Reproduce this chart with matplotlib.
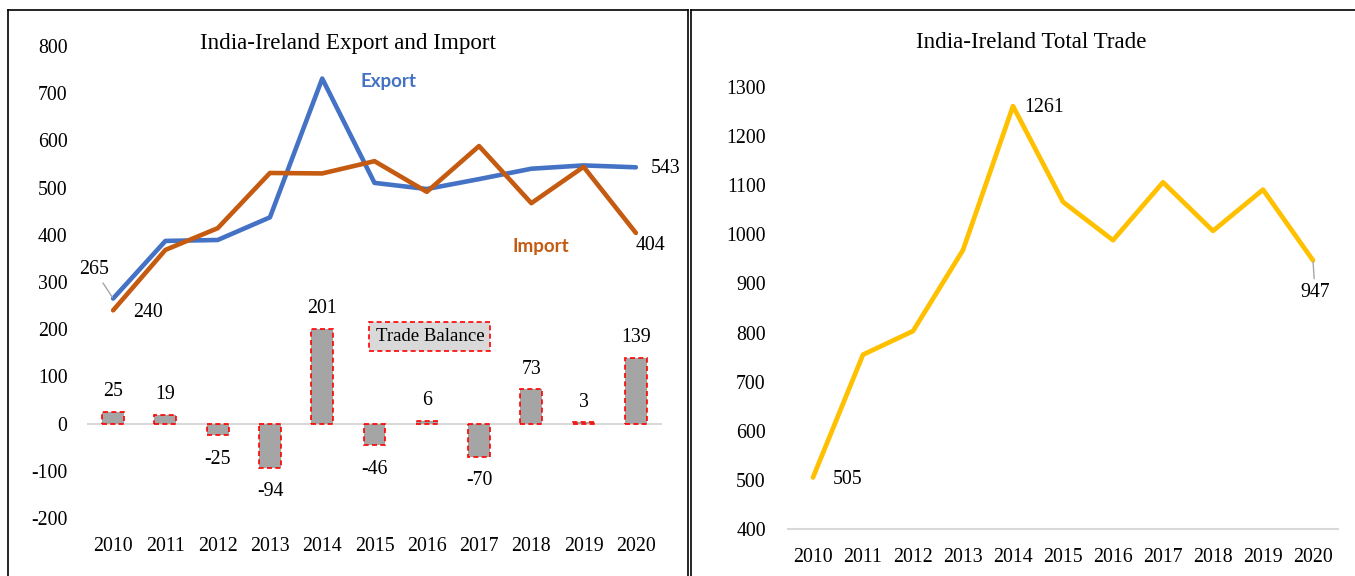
import matplotlib
matplotlib.use("Agg")
import matplotlib.pyplot as plt
from matplotlib.lines import Line2D

years = ["2010", "2011", "2012", "2013", "2014", "2015", "2016", "2017", "2018", "2019", "2020"]
export = [265, 387, 389, 437, 731, 510, 497, 518, 540, 547, 543]
imports = [240, 368, 414, 531, 530, 556, 491, 588, 467, 544, 404]
balance = [25, 19, -25, -94, 201, -46, 6, -70, 73, 3, 139]
total = [505, 755, 803, 968, 1261, 1066, 988, 1106, 1007, 1091, 947]

W, H = 1355, 576
plt.rcParams['font.family'] = ['Liberation Serif', 'DejaVu Serif']
plt.rcParams['axes.unicode_minus'] = False
fig = plt.figure(figsize=(W / 100, H / 100), dpi=100)

def fx(px):
    return px / W

def fy(py):
    return 1 - py / H

BLUE = '#4472C4'
ORANGE = '#C55A11'
GOLD = '#FFC000'
GRAY = '#A5A5A5'
LGRAY = '#D9D9D9'
TICK = 14.3
LBL = 14.3

# ---------- left panel ----------
axL = fig.add_axes([fx(87), fy(518), fx(575), 472 / H])
x = list(range(len(years)))
axL.set_xlim(-0.5, len(years) - 0.5)
axL.set_ylim(-200, 800)
axL.set_yticks(range(-200, 801, 100))
axL.set_xticks(x)
axL.set_xticklabels(years)
for s in axL.spines.values():
    s.set_visible(False)
axL.tick_params(length=0, labelsize=TICK)
axL.tick_params(axis='y', pad=14)
axL.tick_params(axis='x', pad=14)
axL.axhline(0, color=LGRAY, lw=1.5, zorder=1)

bars = axL.bar(x, balance, width=0.42, color=GRAY, edgecolor='#FF0000',
               linewidth=1.2, linestyle=(0, (3, 2)), zorder=2)
for xi, v in zip(x, balance):
    off = 20 if v >= 0 else -24
    axL.annotate(str(v), (xi, v), xytext=(0, off), textcoords='offset pixels',
                 ha='center', va='center', fontsize=LBL)

axL.plot(x, export, color=BLUE, lw=3.3, solid_capstyle='round', solid_joinstyle='round', zorder=3)
axL.plot(x, imports, color=ORANGE, lw=3.3, solid_capstyle='round', solid_joinstyle='round', zorder=4)

axL.annotate(str(export[0]), (x[0], export[0]), xytext=(-19, 29), textcoords='offset pixels',
             ha='center', va='center', fontsize=LBL,
             arrowprops=dict(arrowstyle='-', color='#A6A6A6', lw=1, shrinkA=1, shrinkB=1))
axL.annotate(str(imports[0]), (x[0], imports[0]), xytext=(35, -2), textcoords='offset pixels',
             ha='center', va='center', fontsize=LBL)
axL.annotate(str(export[-1]), (x[-1], export[-1]), xytext=(30, -1), textcoords='offset pixels',
             ha='center', va='center', fontsize=LBL)
axL.annotate(str(imports[-1]), (x[-1], imports[-1]), xytext=(15, -13), textcoords='offset pixels',
             ha='center', va='center', fontsize=LBL)

axL.text(5.26, 724, 'Export', color=BLUE, fontsize=13.5, fontweight='bold',
         family=['Lato', 'DejaVu Sans'], ha='center', va='center')
axL.text(8.19, 376, 'Import', color=ORANGE, fontsize=13.5, fontweight='bold',
         family=['Lato', 'DejaVu Sans'], ha='center', va='center')
axL.text(6.06, 185, 'Trade Balance', fontsize=13.5, ha='center', va='center',
         bbox=dict(boxstyle='square,pad=0.33', facecolor=LGRAY, edgecolor='#FF0000',
                   linestyle=(0, (3, 2)), linewidth=1.2))

fig.text(fx(348), fy(43), 'India-Ireland Export and Import', ha='center', va='center', fontsize=16.6)

# ---------- right panel ----------
axR = fig.add_axes([fx(788), fy(529), fx(550), 442 / H])
axR.set_xlim(-0.5, len(years) - 0.5)
axR.set_ylim(400, 1300)
axR.set_yticks(range(400, 1301, 100))
axR.set_xticks(x)
axR.set_xticklabels(years)
for k, s in axR.spines.items():
    s.set_visible(k == 'bottom')
axR.spines['bottom'].set_color(LGRAY)
axR.spines['bottom'].set_linewidth(1.5)
axR.tick_params(length=0, labelsize=TICK)
axR.tick_params(axis='y', pad=16)
axR.tick_params(axis='x', pad=14)
axR.plot(x, total, color=GOLD, lw=3.4, solid_capstyle='round', solid_joinstyle='round')

axR.annotate(str(total[0]), (x[0], total[0]), xytext=(35, -2), textcoords='offset pixels',
             ha='center', va='center', fontsize=LBL)
axR.annotate(str(total[4]), (x[4], total[4]), xytext=(31, -1), textcoords='offset pixels',
             ha='center', va='center', fontsize=LBL)
axR.annotate(str(total[-1]), (x[-1], total[-1]), xytext=(2, -32), textcoords='offset pixels',
             ha='center', va='center', fontsize=LBL,
             arrowprops=dict(arrowstyle='-', color='#A6A6A6', lw=1, shrinkA=1, shrinkB=1))

fig.text(fx(1031), fy(43), 'India-Ireland Total Trade', ha='center', va='center', fontsize=16.6)

# ---------- panel borders ----------
def seg(x0, y0, x1, y1):
    fig.add_artist(Line2D([fx(x0), fx(x1)], [fy(y0), fy(y1)], color='black', lw=1.2,
                          transform=fig.transFigure))

seg(8, 577, 8, 10)
seg(8, 10, 688, 10)
seg(688, 10, 688, 577)
seg(691, 577, 691, 10)
seg(691, 10, 1356, 10)

fig.savefig('out.png', dpi=100)
